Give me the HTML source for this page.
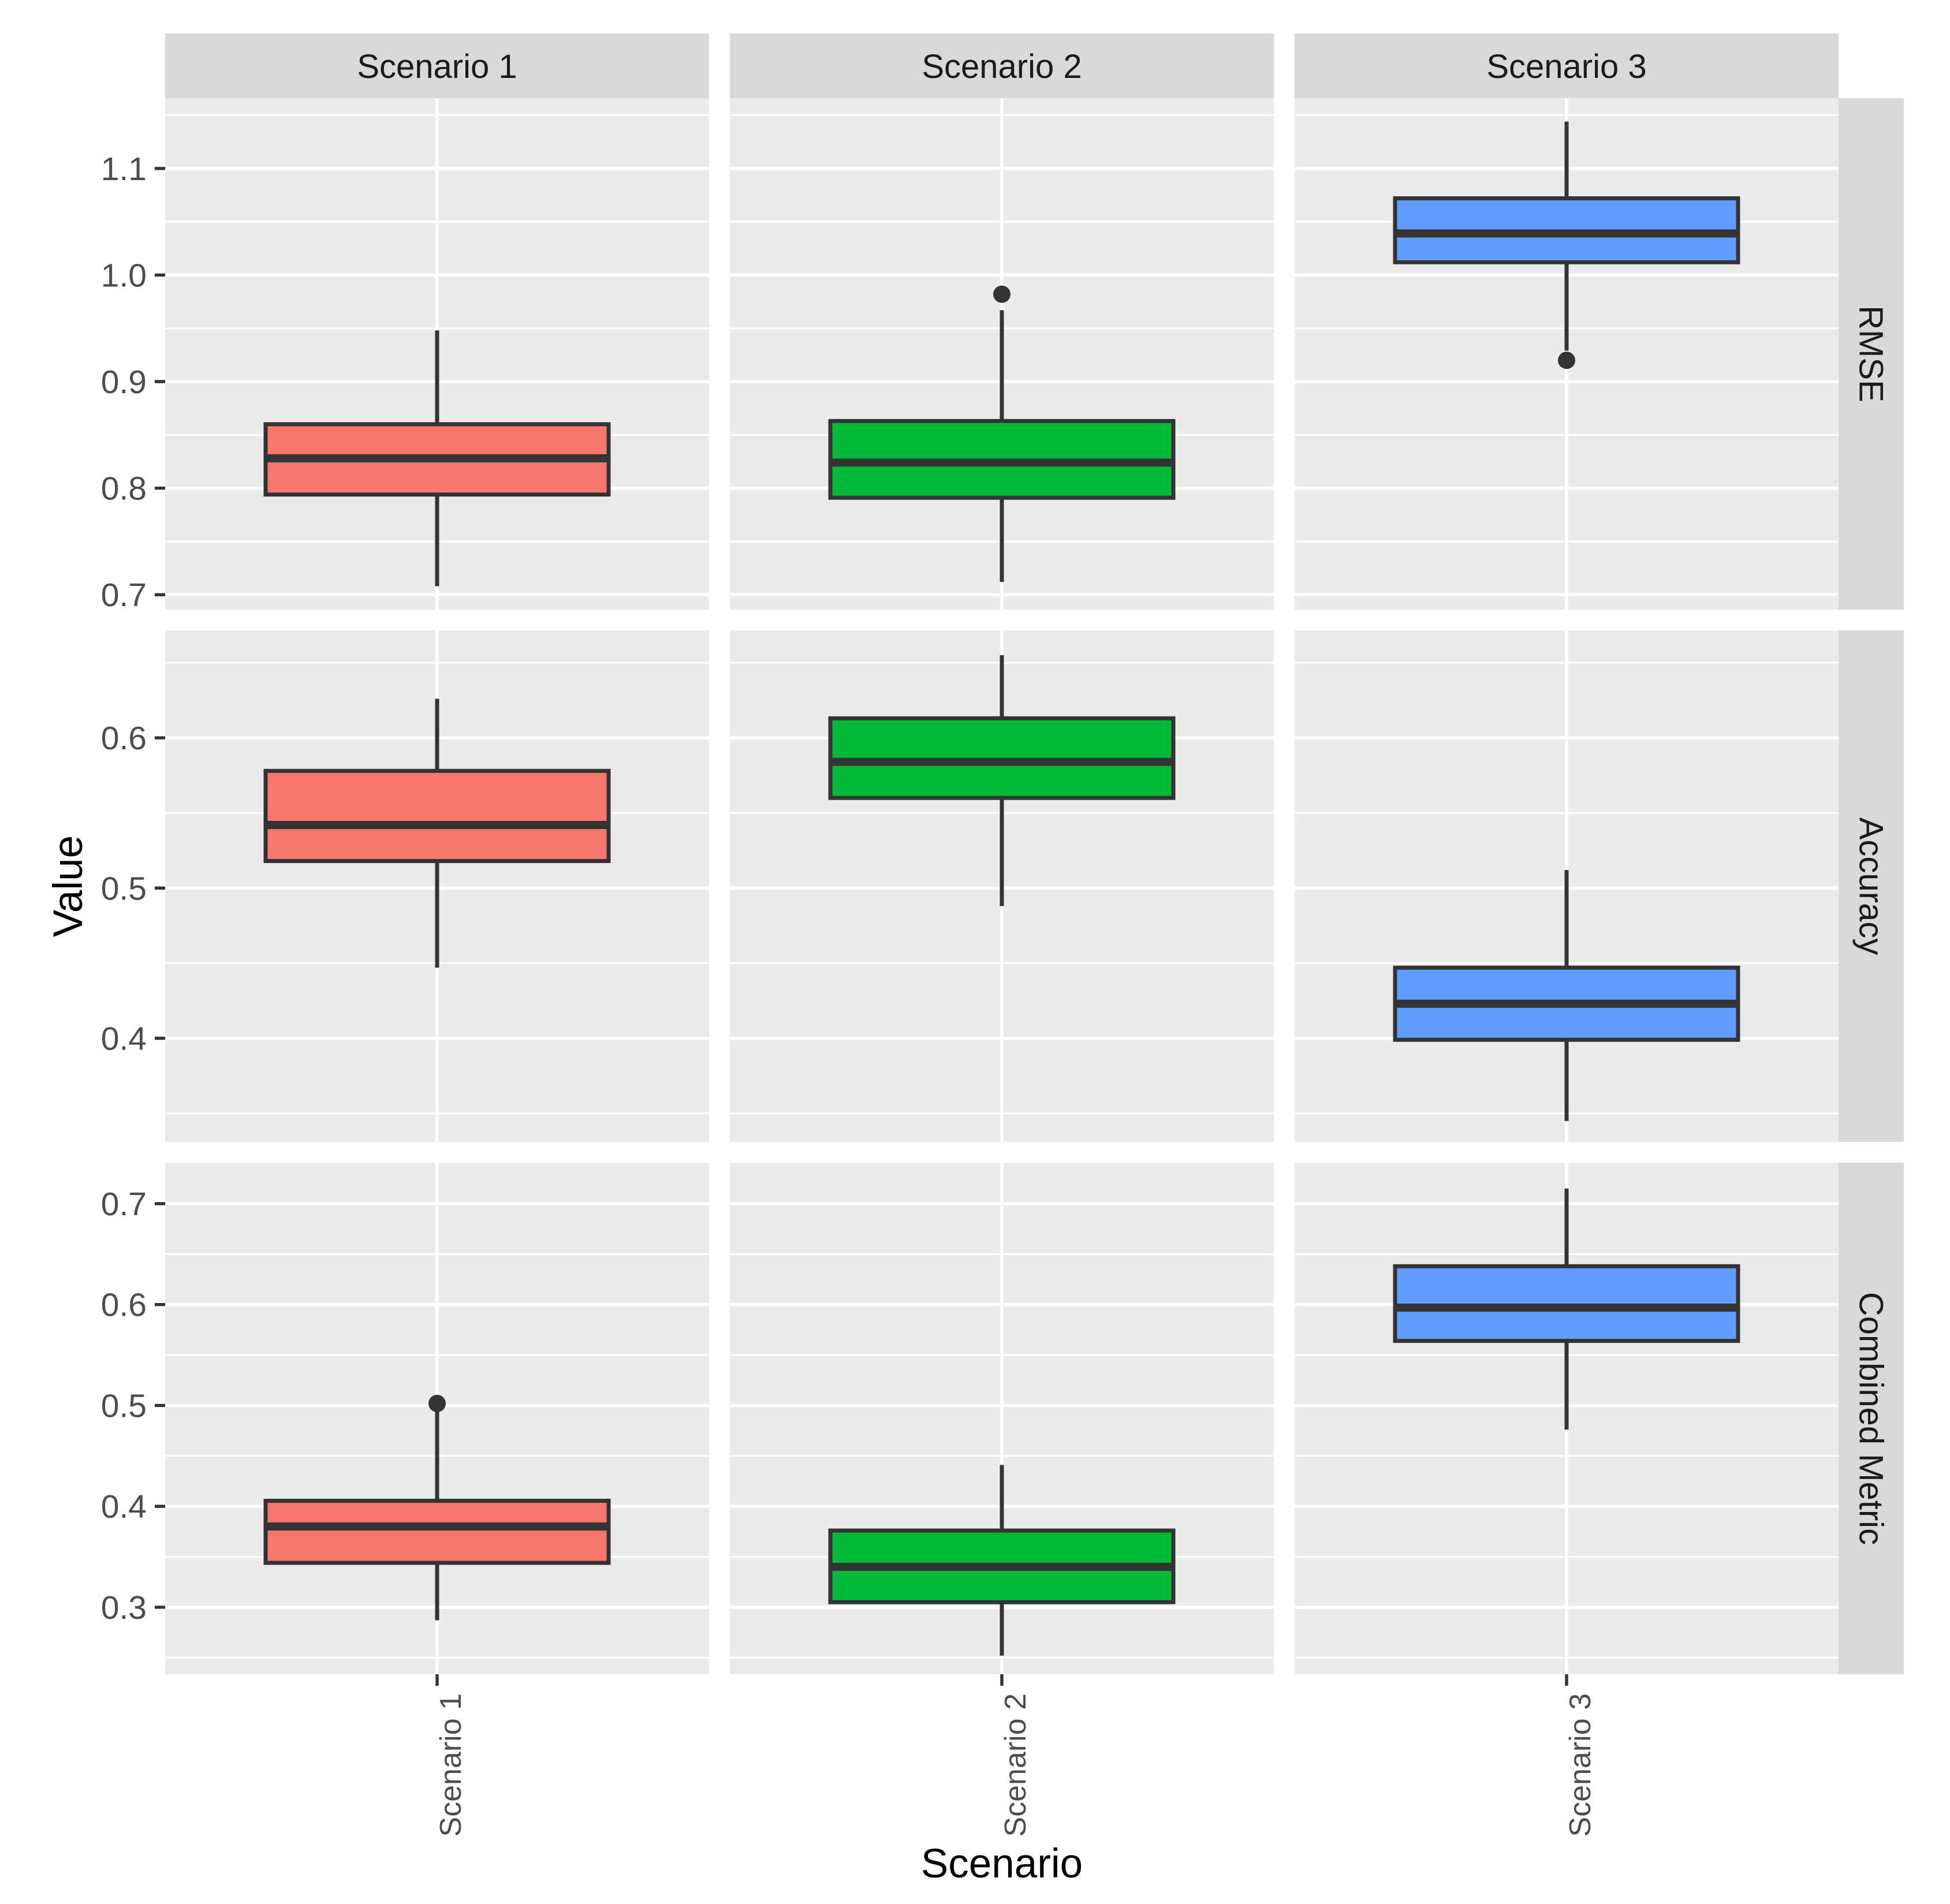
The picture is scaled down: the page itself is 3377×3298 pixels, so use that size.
<!DOCTYPE html>
<html><head><meta charset="utf-8"><style>html,body{margin:0;padding:0;background:#fff}svg{display:block}</style></head>
<body>
<svg id="chart" xmlns="http://www.w3.org/2000/svg" width="3377" height="3298" viewBox="0 0 3377 3298" font-family="Liberation Sans, Arial, sans-serif"></svg>
<script>
const scenarios = ["Scenario 1","Scenario 2","Scenario 3"];
const metrics = ["RMSE","Accuracy","Combined Metric"];
const fills = ["#F8766D","#00BA38","#619CFF"];
// [lowWhisker, Q1, median, Q3, highWhisker] per metric row, per scenario
const rmseStats = [[0.708,0.794,0.828,0.860,0.948],[0.712,0.791,0.824,0.863,0.967],[0.929,1.012,1.039,1.072,1.144]];
const accStats  = [[0.447,0.518,0.542,0.578,0.626],[0.488,0.560,0.584,0.613,0.655],[0.345,0.399,0.423,0.447,0.512]];
const combStats = [[0.287,0.344,0.380,0.4055,0.497],[0.252,0.305,0.340,0.376,0.441],[0.476,0.564,0.597,0.638,0.715]];
const rmseOutliers = [[],[0.982],[0.920]];
const accOutliers = [[],[],[]];
const combOutliers = [[0.502],[],[]];
const rmseTicks = [0.7,0.8,0.9,1.0,1.1];
const accTicks = [0.4,0.5,0.6];
const combTicks = [0.3,0.4,0.5,0.6,0.7];
const rmseTickLabels = ["0.7","0.8","0.9","1.0","1.1"];
const accTickLabels = ["0.4","0.5","0.6"];
const combTickLabels = ["0.3","0.4","0.5","0.6","0.7"];
const rmseDomain = [0.686,1.166];
const accDomain = [0.331,0.6715];
const combDomain = [0.2336,0.7406];

const statsAll=[rmseStats,accStats,combStats], outAll=[rmseOutliers,accOutliers,combOutliers];
const ticksAll=[rmseTicks,accTicks,combTicks], labelsAll=[rmseTickLabels,accTickLabels,combTickLabels];
const domAll=[rmseDomain,accDomain,combDomain];

const NS="http://www.w3.org/2000/svg", svg=document.getElementById('chart');
function mk(tag,attrs,parent,text){const e=document.createElementNS(NS,tag);for(const k in attrs)e.setAttribute(k,attrs[k]);if(text!==undefined)e.textContent=text;(parent||svg).appendChild(e);return e;}
const colX=[286,1264,2242], colW=942, rowY=[170,1092,2014], rowH=886;

scenarios.forEach((s,c)=>{
  const g=mk('g',{});
  
  
  mk('rect',{x:colX[c],y:58,width:colW,height:112,fill:'#D9D9D9'},g);
  mk('text',{x:colX[c]+colW/2,y:135,'text-anchor':'middle','font-size':58,fill:'#1A1A1A'},g,s);
});
metrics.forEach((m,r)=>{
  const g=mk('g',{});
  
  
  mk('rect',{x:3184,y:rowY[r],width:113,height:rowH,fill:'#D9D9D9'},g);
  const cx=3240, cy=rowY[r]+rowH/2;
  mk('text',{x:cx,y:cy,'text-anchor':'middle','dominant-baseline':'central','font-size':58,fill:'#1A1A1A',transform:`rotate(90 ${cx} ${cy})`},g,m);
});

metrics.forEach((m,r)=>{
  const dom=domAll[r];
  const y=v=>rowY[r]+rowH*(dom[1]-v)/(dom[1]-dom[0]);
  const ticks=ticksAll[r];
  const minors=[];
  for(let i=0;i<=ticks.length;i++){
    const step=ticks[1]-ticks[0];
    const mv=ticks[0]-step/2+i*step;
    if(mv>dom[0]&&mv<dom[1])minors.push(mv);
  }
  scenarios.forEach((s,c)=>{
    const p=mk('g',{});
    
    
    mk('rect',{x:colX[c],y:rowY[r],width:colW,height:rowH,fill:'#EBEBEB'},p);
    minors.forEach(v=>mk('line',{x1:colX[c],x2:colX[c]+colW,y1:y(v),y2:y(v),stroke:'#fff','stroke-width':2.7},p));
    ticks.forEach(v=>mk('line',{x1:colX[c],x2:colX[c]+colW,y1:y(v),y2:y(v),stroke:'#fff','stroke-width':5.4},p));
    const cx=colX[c]+colW/2;
    mk('line',{x1:cx,x2:cx,y1:rowY[r],y2:rowY[r]+rowH,stroke:'#fff','stroke-width':5.4},p);
    const st=statsAll[r][c];
    const hw=297;
    const box=mk('g',{},p);
    
    
    mk('line',{x1:cx,x2:cx,y1:y(st[4]),y2:y(st[3]),stroke:'#333','stroke-width':7},box);
    mk('line',{x1:cx,x2:cx,y1:y(st[1]),y2:y(st[0]),stroke:'#333','stroke-width':7},box);
    mk('rect',{x:cx-hw,y:y(st[3]),width:2*hw,height:y(st[1])-y(st[3]),fill:fills[c],stroke:'#333','stroke-width':7},box);
    mk('line',{x1:cx-hw,x2:cx+hw,y1:y(st[2]),y2:y(st[2]),stroke:'#333','stroke-width':14},box);
    outAll[r][c].forEach(v=>{
      const o=mk('circle',{cx:cx,cy:y(v),r:15,fill:'#333'},box);
      
      
    });
  });
  ticks.forEach((v,i)=>{
    mk('line',{x1:268,x2:286,y1:y(v),y2:y(v),stroke:'#333','stroke-width':5.4});
    const t=mk('text',{x:254,y:y(v)+20,'text-anchor':'end','font-size':57,fill:'#4D4D4D'},svg,labelsAll[r][i]);
    
    
  });
});

scenarios.forEach((s,c)=>{
  const cx=colX[c]+colW/2;
  mk('line',{x1:cx,x2:cx,y1:2900,y2:2920,stroke:'#333','stroke-width':5.4});
  const t=mk('text',{x:cx+41,y:2933,'text-anchor':'end','font-size':52,fill:'#4D4D4D',transform:`rotate(-90 ${cx+41} 2933)`},svg,s);
  
  
});
const xt=mk('text',{x:1735,y:3252,'text-anchor':'middle','font-size':71,fill:'#000'},svg,'Scenario');


const yt=mk('text',{x:142,y:1535,'text-anchor':'middle','font-size':71,fill:'#000',transform:'rotate(-90 142 1535)'},svg,'Value');


</script>
</body></html>
